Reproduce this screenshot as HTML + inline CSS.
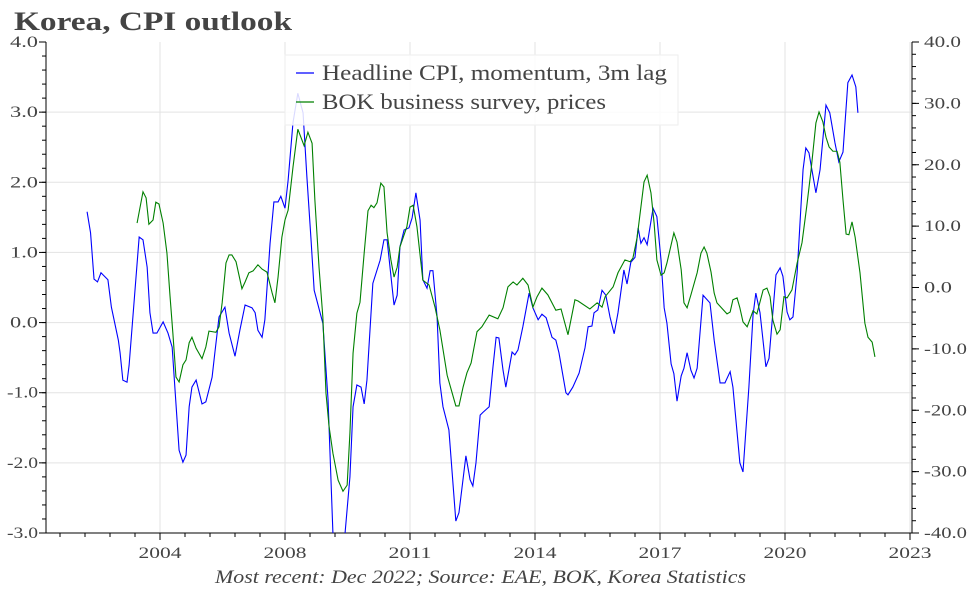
<!DOCTYPE html>
<html><head><meta charset="utf-8"><style>
body{margin:0;background:#fff;}
svg{display:block;font-family:"Liberation Serif",serif;}
</style></head><body>
<svg id="chart" width="972" height="589" viewBox="0 0 972 589">
<text x="14" y="30" font-size="26" font-weight="bold" fill="#444" textLength="278" lengthAdjust="spacingAndGlyphs">Korea, CPI outlook</text>
<defs><clipPath id="plotclip"><rect x="46" y="42" width="866" height="491"/></clipPath></defs>
<g id="grid"></g>
<g id="axes"></g>
<g id="series" clip-path="url(#plotclip)"></g>
<g>
<rect x="285" y="55" width="393" height="70" fill="#fff" fill-opacity="0.85" stroke="#eee"/>
<line x1="296" y1="73" x2="314" y2="73" stroke="#0000ff" stroke-width="1.2"/>
<text x="322" y="80" font-size="22" fill="#444" textLength="345" lengthAdjust="spacingAndGlyphs">Headline CPI, momentum, 3m lag</text>
<line x1="296" y1="102" x2="314" y2="102" stroke="#008000" stroke-width="1.2"/>
<text x="322" y="109" font-size="22" fill="#444" textLength="284" lengthAdjust="spacingAndGlyphs">BOK business survey, prices</text>
</g>
<text x="215" y="583" font-size="19" font-style="italic" fill="#444" textLength="531" lengthAdjust="spacingAndGlyphs">Most recent: Dec 2022; Source: EAE, BOK, Korea Statistics</text>
</svg>
<script>
// months relative to the "2004" tick
const cpiMonths=[-21,-20,-19,-18,-17,-15,-14,-12,-11.5,-10.7,-9.5,-8.9,-6,-4.9,-3.7,-2.9,-2,-0.9,0.9,2.3,3.5,5.5,6.6,7.5,8.4,9.2,10.4,12.1,13.2,15,15.8,17,18.7,19.9,21.6,23,24.5,26.5,27.4,28.2,29.4,30.2,31.7,32.8,34,34.8,36,36.9,38.3,39.7,41.2,42.3,43.5,44.4,46.9,48.4,49.8,51.5,53.3,54.7,55.6,56.7,57.9,58.8,59.6,61.3,63.4,64.5,65.4,67.4,68.3,69.1,70.3,71.7,72.6,73.7,74.9,75.7,76.9,77.8,78.6,79.8,80.6,81.5,83.2,85.2,86.1,88.1,89.3,90.1,91,92.2,93,94.8,95.9,96.8,97.6,98.8,99.6,101.4,102.2,103.1,104.5,106.3,107.4,108.9,110,111.2,112.9,114,114.9,116.9,117.5,118.9,120.7,122.4,123.3,124.4,125,126.1,127.3,128.4,129.6,130.8,131.9,133.6,134.5,135.6,136.8,137.7,138.5,139.4,140.3,142,143.1,144.3,145.2,146,147.2,148,148.9,150.1,150.9,151.8,152.9,153.8,154.7,156.4,158.4,159.6,161.3,162.7,164.2,165,167,167.9,169.6,170.8,171.6,172.8,174.5,175.4,177.4,178.6,179.4,180.6,181.4,182.3,183.5,185.2,186,186.9,188.9,190.1,191.8,192.9,194.4,195.5,196.7,198.1,199.3,200.4,201];
const cpiValues=[1.58,1.28,0.62,0.58,0.71,0.61,0.22,-0.25,-0.43,-0.82,-0.85,-0.61,1.22,1.18,0.79,0.14,-0.15,-0.15,0.01,-0.15,-0.35,-1.82,-1.99,-1.89,-1.2,-0.92,-0.82,-1.16,-1.13,-0.78,-0.43,0.08,0.22,-0.15,-0.48,-0.11,0.25,0.21,0.14,-0.11,-0.21,0.04,1.13,1.72,1.72,1.8,1.63,2.03,2.85,3.27,2.99,2.08,1.18,0.46,-0.01,-1.1,-3.0,-3.4,-3.0,-2.2,-1.2,-0.89,-0.92,-1.16,-0.82,0.56,0.89,1.18,1.18,0.25,0.39,1.08,1.32,1.35,1.49,1.85,1.46,0.61,0.49,0.74,0.74,0.08,-0.86,-1.2,-1.53,-2.83,-2.71,-1.9,-2.24,-2.33,-2.0,-1.32,-1.28,-1.2,-0.63,-0.21,-0.22,-0.68,-0.92,-0.42,-0.46,-0.39,-0.06,0.42,0.21,0.04,0.12,0.07,-0.21,-0.25,-0.43,-1.0,-1.03,-0.92,-0.72,-0.36,-0.06,-0.05,0.14,0.18,0.46,0.39,0.08,-0.16,0.14,0.75,0.55,0.86,0.93,1.35,1.13,1.21,1.11,1.63,1.51,0.89,0.21,-0.01,-0.59,-0.73,-1.12,-0.76,-0.65,-0.43,-0.68,-0.79,-0.65,0.39,0.28,-0.25,-0.86,-0.86,-0.7,-0.92,-2.0,-2.13,-0.92,0.11,0.42,0.14,-0.63,-0.51,0.68,0.78,0.66,0.15,0.04,0.08,0.71,2.18,2.49,2.42,1.85,2.18,3.1,2.99,2.56,2.29,2.43,3.42,3.53,3.36,2.99];
const bokMonths=[-6.6,-4.9,-4,-3.2,-2,-1.2,-0.3,0.9,2,2.9,3.7,4.6,5.5,6.6,7.5,8.4,9.2,10.4,12.1,13.2,14.1,16.1,17,17.9,19,19.9,20.7,21.9,23.6,24.5,25.6,26.8,28.2,29.4,30.8,32.3,33.1,34,35.1,36,36.9,38.3,39.7,41.5,42.6,43.8,44.6,45.8,46.9,47.8,48.7,49.8,51.3,52.7,53.9,54.7,55.6,56.7,57.6,58.8,59.9,60.8,61.6,62.5,63.6,64.5,65.4,66.5,67.4,68.3,69.1,71.1,72,72.9,74,75.7,77.5,79.2,80.6,82.7,85.2,86.1,87.3,88.4,89.6,91.3,92.7,94.8,97.3,98.8,100.2,101.7,102.8,104.5,106,107.4,108.6,110,111.7,114,115.5,117.5,119.5,120.4,123.8,125.9,127.3,128.2,130.5,131.9,133.9,135.4,136.2,137.4,139.4,140.3,141.4,142.3,143.1,144.3,145.2,146,148,148.9,150.1,150.9,151.8,152.9,154.7,155.8,156.7,157.5,158.7,159.6,160.4,163.3,164.2,165,166.2,167,167.9,169.1,170.8,171.9,173.7,174.8,175.7,176.5,177.7,178.6,179.7,180.6,182,183.5,184.9,186.3,187.5,188.9,189.8,190.9,191.8,192.7,193.8,195,195.8,196.7,197.6,198.4,199.3,200.2,201.6,203,203.9,205.1,205.9];
const bokValues=[10.5,15.6,14.6,10.3,11.0,13.9,13.6,10.5,5.6,-1.5,-7.4,-14.6,-15.4,-12.6,-11.8,-9.0,-8.1,-9.9,-11.6,-9.7,-7.1,-7.3,-6.4,-2.5,4.0,5.3,5.3,4.2,-0.2,0.9,2.4,2.7,3.7,3.0,2.5,-0.9,-2.5,1.7,8.2,11.0,12.6,19.6,25.8,23.1,25.3,23.5,14.3,3.3,-4.8,-17.2,-22.7,-27.0,-31.4,-33.2,-32.2,-23.7,-10.7,-4.2,-2.4,5.6,12.5,13.4,13.0,13.8,17.0,16.4,8.9,4.5,1.7,3.3,6.6,9.9,13.1,13.4,9.9,1.2,0.4,-3.2,-6.9,-14.3,-19.3,-19.3,-16.2,-13.9,-12.3,-7.2,-6.4,-4.5,-5.1,-3.3,0.1,0.9,0.4,1.5,0.4,-3.2,-1.5,-0.1,-1.2,-3.7,-3.5,-7.7,-2.0,-2.2,-3.5,-2.5,-3.2,-1.5,0.1,2.4,4.5,4.2,4.8,8.1,17.2,18.3,15.4,10.5,4.5,2.0,2.4,4.0,8.9,7.4,2.9,-2.5,-3.3,-1.2,2.4,5.6,6.6,5.6,2.5,-0.9,-2.5,-4.3,-4.0,-2.0,-1.7,-3.3,-5.6,-6.4,-3.8,-4.3,-0.4,-0.1,-1.5,-5.3,-7.6,-6.9,-1.5,-1.7,-0.4,4.0,7.3,13.4,19.1,26.8,28.6,27.0,24.5,22.9,22.2,22.2,20.4,14.3,8.7,8.6,10.7,8.2,2.4,-5.8,-8.1,-8.9,-11.3];
const xTickLabels=["2004","2008","2011","2014","2017","2020","2023"];
const xTickMonths=[0,36,72,108,144,180,216];
const leftTicks=[4,3,2,1,0,-1,-2,-3];
const rightTicks=[40,30,20,10,0,-10,-20,-30,-40];

const NS="http://www.w3.org/2000/svg";
const L=46,R=912,T=42,B=533;
const x=m=>160+m*125/36;
const yL=v=>T+(4-v)*(B-T)/7;
const yR=v=>T+(40-v)*(B-T)/80;
function mk(tag,attrs,parent){const e=document.createElementNS(NS,tag);for(const k in attrs)e.setAttribute(k,attrs[k]);parent.appendChild(e);return e;}
const grid=document.getElementById('grid'),axes=document.getElementById('axes'),series=document.getElementById('series');

xTickMonths.forEach((m,i)=>{
  const gx=x(m);
  if(gx<R){const g=mk('line',{x1:gx,x2:gx,y1:T,y2:B,stroke:'#e3e3e3'},grid);
  
  }
  const t=mk('line',{x1:gx,x2:gx,y1:B,y2:B+7,stroke:'#000'},axes);
  
  
  const lb=mk('text',{x:gx,y:B+25,'font-size':16,fill:'#444','text-anchor':'middle',textLength:43,lengthAdjust:'spacingAndGlyphs'},axes);
  lb.textContent=xTickLabels[i];
  
  
});
for(let m=-36;m<=216;m+=7.2){const gx=x(m);if(gx>L&&gx<R){const t=mk('line',{x1:gx,x2:gx,y1:B,y2:B+4,stroke:'#000'},axes);
  
  }}
leftTicks.forEach(v=>{
  const gy=yL(v);
  if(v<4&&v>-3){const g=mk('line',{x1:L,x2:R,y1:gy,y2:gy,stroke:'#e3e3e3'},grid);
  
  }
  const t=mk('line',{x1:L-7,x2:L,y1:gy,y2:gy,stroke:'#000'},axes);
  
  
  const s=v.toFixed(1);
  const lb=mk('text',{x:L-8,y:gy+5,'font-size':16,fill:'#444','text-anchor':'end',textLength:s.length>3?31:28,lengthAdjust:'spacingAndGlyphs'},axes);
  lb.textContent=s;
  
  
});
for(let v=-3;v<=4;v+=0.2){const t=mk('line',{x1:L-4,x2:L,y1:yL(v),y2:yL(v),stroke:'#000'},axes);
  
  }
rightTicks.forEach(v=>{
  const gy=yR(v);
  const t=mk('line',{x1:R,x2:R+7,y1:gy,y2:gy,stroke:'#000'},axes);
  
  
  const s=v.toFixed(1);
  const lb=mk('text',{x:R+12,y:gy+5,'font-size':16,fill:'#444',textLength:s.length>4?43:(s.length>3?37:28),lengthAdjust:'spacingAndGlyphs'},axes);
  lb.textContent=s;
  
  
});
for(let v=-40;v<=40;v+=2){const t=mk('line',{x1:R,x2:R+4,y1:yR(v),y2:yR(v),stroke:'#000'},axes);
  
  }
[[L,T,L,B],[R,T,R,B],[L,B,R,B]].forEach(a=>{const ln=mk('line',{x1:a[0],y1:a[1],x2:a[2],y2:a[3],stroke:'#000'},axes);
  
  });

const pc=mk('polyline',{points:cpiMonths.map((m,i)=>x(m)+','+yL(cpiValues[i])).join(' '),fill:'none',stroke:'#0000ff','stroke-width':1.1},series);


const pb=mk('polyline',{points:bokMonths.map((m,i)=>x(m)+','+yR(bokValues[i])).join(' '),fill:'none',stroke:'#008000','stroke-width':1.1},series);


</script>
</body></html>
